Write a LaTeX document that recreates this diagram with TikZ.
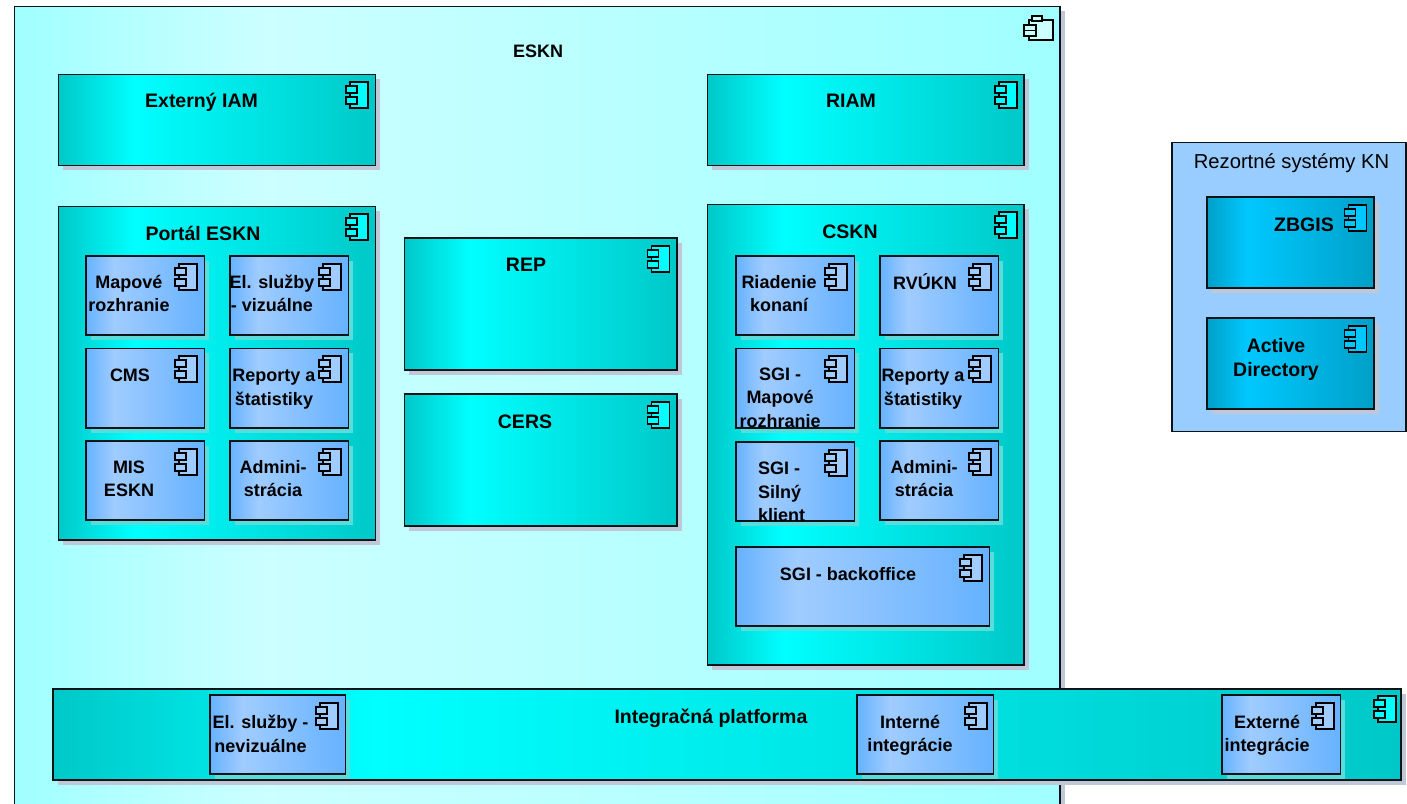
\documentclass[tikz,border=0pt]{standalone}
\usepackage{fontspec}
\setmainfont{Liberation Sans}
\definecolor{outerD}{HTML}{A0FFFF}
\definecolor{outerL}{HTML}{CCFFFF}
\definecolor{tealD}{HTML}{00C8C8}
\definecolor{tealL}{HTML}{00FFFF}
\definecolor{blueD}{HTML}{66B2FF}
\definecolor{blueL}{HTML}{A0CCFF}
\definecolor{skyD}{HTML}{00A0C8}
\definecolor{skyL}{HTML}{00C8FF}
\definecolor{panel}{HTML}{99CCFF}
\definecolor{shadeA}{HTML}{C0C8D8}
\definecolor{shadeB}{HTML}{58DCDC}
\definecolor{edge}{HTML}{0A1418}
\pgfdeclarehorizontalshading{outerfill}{100bp}{color(0bp)=(outerD); color(25bp)=(outerD); color(37bp)=(outerL); color(75bp)=(outerD); color(100bp)=(outerD)}
\pgfdeclarehorizontalshading{tealfill}{100bp}{color(0bp)=(tealD); color(25bp)=(tealD); color(37bp)=(tealL); color(75bp)=(tealD); color(100bp)=(tealD)}
\pgfdeclarehorizontalshading{bluefill}{100bp}{color(0bp)=(blueD); color(25bp)=(blueD); color(37bp)=(blueL); color(75bp)=(blueD); color(100bp)=(blueD)}
\pgfdeclarehorizontalshading{skyfill}{100bp}{color(0bp)=(skyD); color(25bp)=(skyD); color(37bp)=(skyL); color(75bp)=(skyD); color(100bp)=(skyD)}
\tikzset{
  compbox/.style={draw=edge,line width=1.5pt,rectangle,inner sep=0pt,outer sep=0pt},
  titlebig/.style={font=\fontsize{19.5}{24}\selectfont\bfseries,align=center,inner sep=0pt},
  titlesmall/.style={font=\fontsize{18}{23.5}\selectfont\bfseries,align=center,inner sep=0pt},
  iconline/.style={draw=black,line width=1.4pt},
}
% box: name, shading, shadow colour, x1,y1,x2,y2
\newcommand{\compbox}[7]{%
  \fill[#3] (#4+4.5,#5+4.5) rectangle (#6+4.5,#7+4.5);
  \node[compbox,shading=#2,minimum width=#6pt-#4pt,minimum height=#7pt-#5pt,anchor=north west] (#1) at (#4,#5) {};
}
% icon: right, top, colour
\newcommand{\compicon}[3]{%
  \draw[iconline,fill=#3] (#1-18,#2) rectangle (#1,#2+26);
  \draw[iconline,fill=#3] (#1-22,#2+4) rectangle (#1-11,#2+11);
  \draw[iconline,fill=#3] (#1-22,#2+15) rectangle (#1-11,#2+22);
}
\begin{document}
\begin{tikzpicture}[x=1pt,y=-1pt]
\useasboundingbox (0,0) rectangle (1407,803);
\clip (0,0) rectangle (1407,803);
\fill[white] (0,0) rectangle (1407,803);
% ESKN
\compbox{eskn}{outerfill}{shadeA}{14.5}{6.5}{1060}{830}
\node[titlesmall] (esknT) at (538,51) {ESKN};
\draw[iconline,fill=outerL] (1029,20) rectangle (1053,40);
\draw[iconline,fill=outerL] (1032,16) rectangle (1042,21);
\draw[iconline,fill=outerL] (1024,25) rectangle (1036,30.5);
\draw[iconline,fill=outerL] (1024,30.5) rectangle (1036,36);
% Externy IAM, RIAM
\compbox{iam}{tealfill}{shadeA}{58.5}{74.5}{375.5}{165.5}
\node[titlebig] (iamT) at (201.5,102.5) {Externý IAM};
\compicon{368}{82}{tealL}
\compbox{riam}{tealfill}{shadeA}{707.5}{74.5}{1024}{165.5}
\node[titlebig] (riamT) at (851,101) {RIAM};
\compicon{1017}{82}{tealL}
% Portal
\compbox{portal}{tealfill}{shadeA}{58.5}{206.5}{375.5}{540}
\node[titlebig] (portalT) at (203,233) {Portál ESKN};
\compicon{368}{214}{tealL}
\compbox{map}{bluefill}{shadeB}{86}{256}{204.5}{335}
\node[titlesmall] (mapT) at (129,293.5) {Mapové\\rozhranie};
\compicon{197}{264}{blueL}
\compbox{els}{bluefill}{shadeB}{230}{256}{348.5}{335}
\node[titlesmall] (elsT) at (272,293.5) {El. služby\\- vizuálne};
\compicon{341}{264}{blueL}
\compbox{cms}{bluefill}{shadeB}{86}{348.5}{204.5}{428}
\node[titlesmall] (cmsT) at (130,375) {CMS};
\compicon{197}{356}{blueL}
\compbox{rep1}{bluefill}{shadeB}{230}{348.5}{348.5}{428}
\node[titlesmall] (rep1T) at (274,389) {Reporty a\\štatistiky};
\compicon{341}{356}{blueL}
\compbox{mis}{bluefill}{shadeB}{86}{441}{204.5}{520}
\node[titlesmall] (misT) at (129,479) {MIS\\ESKN};
\compicon{197}{449}{blueL}
\compbox{adm1}{bluefill}{shadeB}{230}{441}{348.5}{520}
\node[titlesmall] (adm1T) at (273,478.5) {Admini-\\strácia};
\compicon{341}{449}{blueL}
% REP, CERS
\compbox{rep}{tealfill}{shadeA}{404.5}{238}{677}{370}
\node[titlebig] (repT) at (526,265) {REP};
\compicon{669.5}{246}{tealL}
\compbox{cers}{tealfill}{shadeA}{404.5}{394}{677}{526}
\node[titlebig] (cersT) at (525,421.5) {CERS};
\compicon{669.5}{402}{tealL}
% CSKN
\compbox{cskn}{tealfill}{shadeA}{707.5}{204.5}{1024}{665}
\node[titlebig] (csknT) at (850,231.5) {CSKN};
\compicon{1017}{212}{tealL}
\compbox{ria}{bluefill}{shadeB}{736}{256}{854.5}{335}
\node[titlesmall] (riaT) at (779,293.5) {Riadenie\\konaní};
\compicon{847}{264}{blueL}
\compbox{rvu}{bluefill}{shadeB}{880}{256}{998.5}{335}
\node[titlesmall] (rvuT) at (925,281.5) {RVÚKN};
\compicon{991}{264}{blueL}
\compbox{sgim}{bluefill}{shadeB}{736}{348.5}{854.5}{428}
\node[titlesmall] (sgimT) at (780,397.5) {SGI -\\Mapové\\rozhranie};
\compicon{847}{356}{blueL}
\compbox{rep2}{bluefill}{shadeB}{880}{348.5}{998.5}{428}
\node[titlesmall] (rep2T) at (923,389) {Reporty a\\štatistiky};
\compicon{991}{356}{blueL}
\compbox{sgis}{bluefill}{shadeB}{736}{442}{854.5}{521}
\node[titlesmall,align=left,anchor=west] (sgisT) at (758,492) {SGI -\\Silný\\klient};
\compicon{847}{450}{blueL}
\compbox{adm2}{bluefill}{shadeB}{880}{441}{998.5}{520}
\node[titlesmall] (adm2T) at (924,478.5) {Admini-\\strácia};
\compicon{991}{449}{blueL}
\compbox{sgib}{bluefill}{shadeB}{736}{547}{989.5}{626}
\node[titlesmall] (sgibT) at (848,574) {SGI - backoffice};
\compicon{982}{555}{blueL}
% Rezortne systemy
\node[compbox,fill=panel,minimum width=234pt,minimum height=289pt,anchor=north west] (rez) at (1172,142.5) {};
\node[font=\fontsize{20.2}{24}\selectfont,inner sep=0pt] (rezT) at (1291.5,163.5) {Rezortné systémy KN};
\compbox{zbg}{skyfill}{shadeA}{1207}{197}{1374}{288}
\node[titlebig] (zbgT) at (1304,224.5) {ZBGIS};
\compicon{1366.5}{205}{skyL}
\compbox{ad}{skyfill}{shadeA}{1207}{318}{1374}{409}
\node[titlebig] (adT) at (1276,359.5) {Active\\Directory};
\compicon{1366.5}{326}{skyL}
% Integracna platforma
\compbox{ip}{tealfill}{shadeA}{53}{689}{1401}{780}
\node[titlebig] (ipT) at (711,718.5) {Integračná platforma};
\compicon{1396}{696}{tealL}
\compbox{eln}{bluefill}{shadeB}{210}{695}{345.5}{774}
\node[titlesmall] (elnT) at (260.5,734) {El. služby -\\nevizuálne};
\compicon{338}{703}{blueL}
\compbox{int}{bluefill}{shadeB}{857}{695}{993.5}{774}
\node[titlesmall] (intT) at (910,735.5) {Interné\\integrácie};
\compicon{987}{703}{blueL}
\compbox{ext}{bluefill}{shadeB}{1222}{695}{1340.5}{774}
\node[titlesmall] (extT) at (1267,735.5) {Externé\\integrácie};
\compicon{1334}{703}{blueL}
\end{tikzpicture}
\end{document}
